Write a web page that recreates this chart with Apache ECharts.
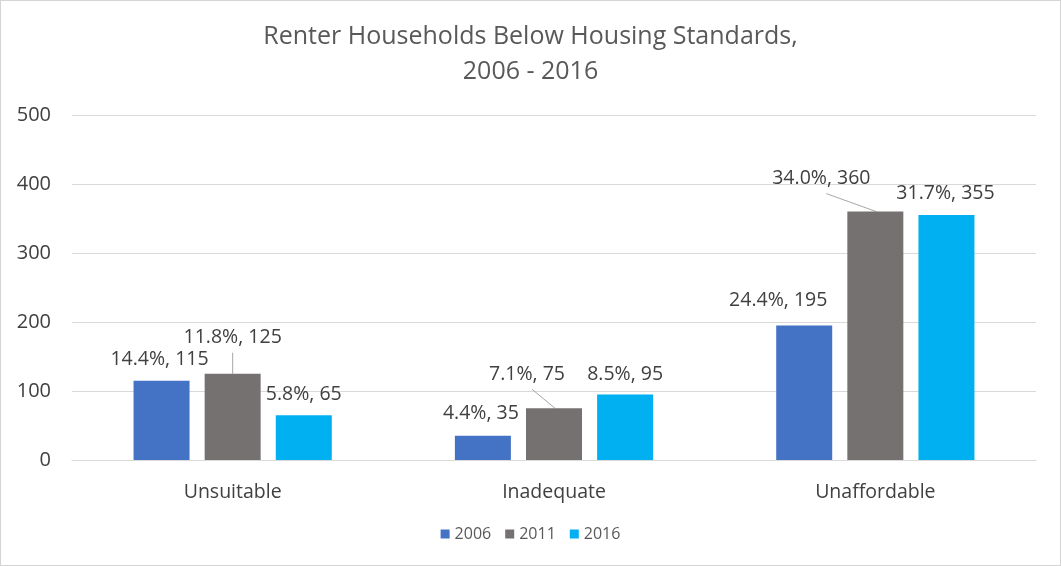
<!DOCTYPE html>
<html>
<head>
<meta charset="utf-8">
<script src="https://cdn.jsdelivr.net/npm/echarts@6/dist/echarts.min.js"></script>
<style>
  html, body { margin: 0; padding: 0; background: #fff; }
  #chart { width: 1059px; height: 564px; border: 1px solid #d4d4d4; }
</style>
</head>
<body>
<div id="chart"></div>
<script>
const categories = ['Unsuitable', 'Inadequate', 'Unaffordable']
const years = ['2006', '2011', '2016']
const values2006 = [115, 35, 195]
const values2011 = [125, 75, 360]
const values2016 = [65, 95, 355]
const pct2006 = ['14.4%', '4.4%', '24.4%']
const pct2011 = ['11.8%', '7.1%', '34.0%']
const pct2016 = ['5.8%', '8.5%', '31.7%']
const yTicks = [0, 100, 200, 300, 400, 500]

// label nudges (dx, dy) per series / category
const labelShift = [
  [[-2, -6], [-2, -7], [-26, -10]],
  [[0, -21], [-27, -19], [-54, -18]],
  [[0, -6], [0, -5], [-1, -7]]
]
const LABEL_DIST = 5

const FONT = 'Open Sans'
const colors = ['#4472c4', '#767171', '#00b0f0']
const valuesAll = [values2006, values2011, values2016]
const pctAll = [pct2006, pct2011, pct2016]

const chart = echarts.init(document.getElementById('chart'))

const series = years.map((y, si) => ({
  name: y,
  type: 'bar',
  barWidth: 56,
  barGap: '27%',
  itemStyle: { color: colors[si] },
  data: valuesAll[si],
  label: {
    show: true,
    position: 'top',
    distance: LABEL_DIST,
    fontFamily: FONT,
    fontSize: 19.5,
    color: '#404040',
    formatter: p => pctAll[si][p.dataIndex] + ', ' + p.value
  },
  labelLayout: p => ({ dx: labelShift[si][p.dataIndex][0], dy: labelShift[si][p.dataIndex][1] })
}))

chart.setOption({
  animation: false,
  title: {
    text: 'Renter Households Below Housing Standards,\n2006 - 2016',
    left: 'center',
    top: 13,
    textStyle: {
      fontFamily: FONT,
      fontWeight: 'normal',
      fontSize: 25,
      color: '#595959',
      lineHeight: 35
    }
  },
  legend: {
    data: years,
    bottom: 18,
    left: 'center',
    itemWidth: 9,
    itemHeight: 9,
    itemGap: 14,
    icon: 'rect',
    textStyle: { fontFamily: FONT, fontSize: 16, color: '#595959' }
  },
  grid: { left: 71, right: 24, top: 114, bottom: 105, containLabel: false },
  xAxis: {
    type: 'category',
    data: categories,
    axisLine: { lineStyle: { color: '#d9d9d9' } },
    axisTick: { show: false },
    axisLabel: { fontFamily: FONT, fontSize: 19.5, color: '#404040', margin: 22 }
  },
  yAxis: {
    type: 'value',
    min: yTicks[0],
    max: yTicks[yTicks.length - 1],
    interval: 100,
    axisLine: { show: false },
    axisTick: { show: false },
    splitLine: { lineStyle: { color: '#d9d9d9' } },
    axisLabel: { fontFamily: FONT, fontSize: 20, color: '#404040', margin: 21 }
  },
  series
})

// leader lines for the 2011 labels: from under the moved label to the bar top
function drawLeaders() {
  const data = chart.getModel().getSeriesByIndex(1).getData()
  const lines = values2011.map((v, i) => {
    const lay = data.getItemLayout(i)
    const barX = lay.x + lay.width / 2
    const barTop = Math.min(lay.y, lay.y + lay.height)
    const [dx, dy] = labelShift[1][i]
    const lx = barX + dx + (dx < 0 ? 5 : 0)
    const ly = barTop - LABEL_DIST + dy + 5
    return {
      type: 'line',
      silent: true,
      shape: { x1: lx, y1: ly, x2: barX + (dx < 0 ? 1 : 0), y2: barTop },
      style: { stroke: '#a6a6a6', lineWidth: 1 }
    }
  })
  chart.setOption({ graphic: lines })
}
drawLeaders()
</script>
</body>
</html>
